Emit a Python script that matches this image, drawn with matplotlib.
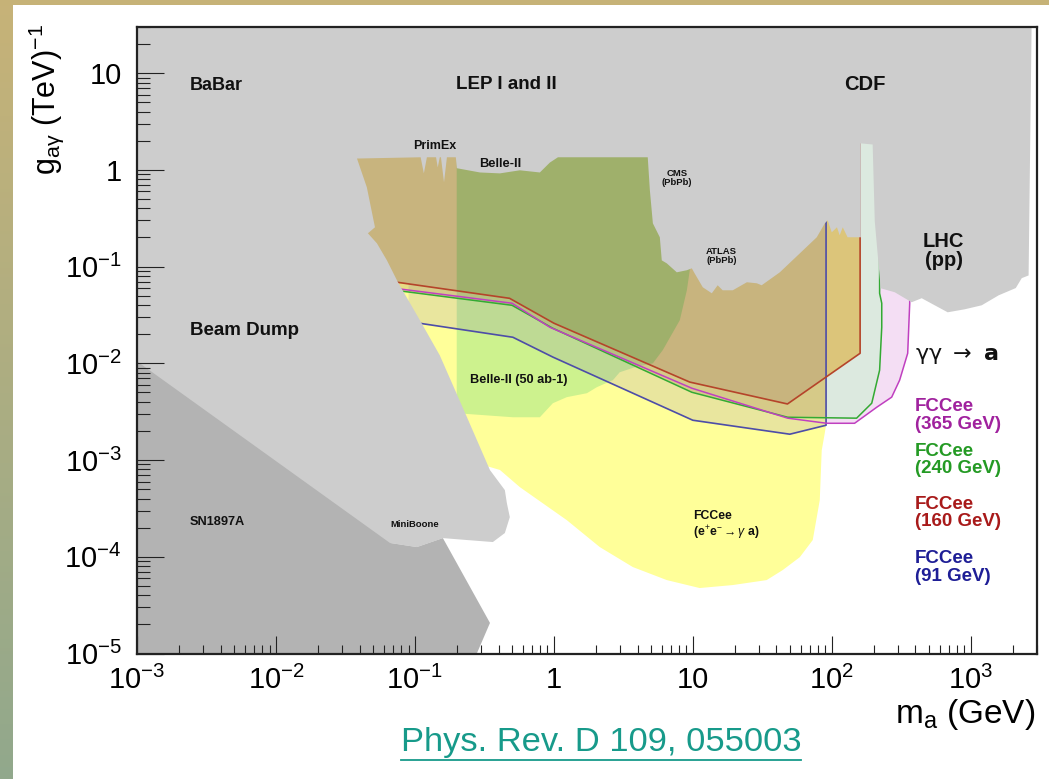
import numpy as np
import matplotlib
matplotlib.use("Agg")
import matplotlib.pyplot as plt
from matplotlib.patches import Polygon, Rectangle
from matplotlib.lines import Line2D
from matplotlib.ticker import FixedLocator, FixedFormatter, LogLocator, NullFormatter

plt.rcParams['font.family'] = ['Liberation Sans', 'DejaVu Sans']
plt.rcParams['mathtext.fontset'] = 'custom'
plt.rcParams['mathtext.rm'] = 'Liberation Sans'
plt.rcParams['mathtext.it'] = 'Liberation Sans:italic'
plt.rcParams['mathtext.bf'] = 'Liberation Sans:bold'
plt.rcParams['mathtext.sf'] = 'Liberation Sans'

# ---------------- data: m_a [GeV], g_ay [TeV^-1] ----------------
# existing limits (light grey): outline traced clockwise from top-left
excl_m = [5e-4, 2750, 2610, 2330, 2110, 1590, 1200, 906, 683, 551, 444, 376, 284, 225,
          204, 197, 162, 162, 130, 120, 114, 109, 100, 93.5, 89.1, 78, 58.9, 42.3, 31.3,
          28.9, 24.5, 19.4, 16.4, 15.1, 13.7, 11.8, 10.3, 9.84, 9.06, 7.67, 6.50, 5.98,
          5.79, 5.16, 4.91, 4.74, 1.07, 0.936, 0.793, 0.569, 0.409, 0.294, 0.2005, 0.197,
          0.170, 0.162, 0.154, 0.151, 0.146, 0.142, 0.122, 0.116, 0.110, 0.0383, 0.0451,
          0.0499, 0.0516, 0.0459, 0.0533, 0.0629, 0.0755, 0.1086, 0.151, 0.237, 0.347,
          0.444, 0.459, 0.482, 0.444, 0.364, 0.237, 0.159, 0.1033, 0.0661, 5e-4]
excl_g = [40, 40, 0.081, 0.076, 0.060, 0.0505, 0.0398, 0.0362, 0.0337, 0.0398, 0.0471,
          0.0428, 0.0543, 0.0597, 0.294, 1.83, 1.88, 0.201, 0.201, 0.255, 0.211, 0.255,
          0.226, 0.301, 0.280, 0.201, 0.137, 0.0873, 0.0641, 0.0672, 0.0689, 0.0569,
          0.0569, 0.0641, 0.053, 0.0611, 0.0853, 0.096, 0.0917, 0.0873, 0.108, 0.116,
          0.201, 0.280, 0.614, 1.35, 1.35, 1.19, 0.94, 0.99, 0.92, 0.94, 1.04, 1.35, 1.35,
          0.743, 1.35, 1.35, 1.06, 1.35, 1.35, 0.92, 1.35, 1.31, 0.66, 0.323, 0.255, 0.221,
          0.174, 0.116, 0.0689, 0.0279, 0.0121, 0.00277, 7.87e-4, 4.89e-4, 3.59e-4,
          2.57e-4, 1.76e-4, 1.42e-4, 1.49e-4, 1.56e-4, 1.26e-4, 1.39e-4, 9e-6]

# SN1987A (dark grey)
sn_m = [5e-4, 1e-3, 0.0661, 0.1033, 0.159, 0.347, 0.279, 0.27, 5e-4]
sn_g = [0.0105, 0.0105, 1.39e-4, 1.26e-4, 1.56e-4, 2.07e-5, 1e-5, 9e-6, 9e-6]

# FCCee e+e- -> gamma a reach (yellow), lower edge
ee_m = [5e-4, 0.30, 0.409, 0.569, 1.24, 2.14, 3.70, 6.50, 11.2, 19.4, 34.0, 44.4, 58.9,
        73.0, 82.0, 84.7, 89.1, 91, 91, 5e-4]
ee_g = [9e-4, 9e-4, 7.9e-4, 5.25e-4, 2.39e-4, 1.26e-4, 7.83e-5, 5.74e-5, 4.75e-5, 5.1e-5,
        5.74e-5, 7.29e-5, 9.9e-5, 1.49e-4, 3.85e-4, 1.26e-3, 1.9e-3, 2.3e-3, 3.0, 3.0]

# Belle-II (50 ab-1)
b2_m = [0.2, 0.2, 0.507, 0.793, 0.984, 1.24, 1.73, 2.04, 2.66, 2.98, 3.83, 5.16, 6.08,
        8.06, 9.06, 9.51, 9.84, 10.0]
b2_g = [3.0, 0.00305, 0.00277, 0.00277, 0.00387, 0.00447, 0.00491, 0.00567, 0.0067,
        0.00809, 0.00912, 0.0100, 0.0137, 0.0279, 0.0569, 0.0917, 0.111, 3.0]

# gamma gamma -> a reach at FCCee runs
red_m = [0.06, 0.48, 1.0, 9.5, 48, 160, 160]                 # 160 GeV
red_g = [0.072, 0.047, 0.026, 0.0064, 0.0038, 0.0127, 3.0]
green_m = [0.065, 0.50, 0.98, 9.84, 48.2, 151, 194, 221, 229, 229, 221, 221]   # 240 GeV
green_g = [0.058, 0.0398, 0.0231, 0.00502, 0.00277, 0.00271, 0.00387, 0.00849, 0.0236,
           0.0418, 0.053, 3.0]
mag_m = [0.065, 0.50, 0.936, 9.84, 48.2, 92, 146, 211, 270, 308, 352, 364, 364]  # 365 GeV
mag_g = [0.0607, 0.0418, 0.0236, 0.00553, 0.00271, 0.0024, 0.0024, 0.00352, 0.00447,
         0.0067, 0.0127, 0.0418, 3.0]
blue_m = [0.09, 0.507, 0.984, 10.0, 49.9, 91, 91]             # 91 GeV
blue_g = [0.027, 0.0186, 0.0116, 0.00258, 0.00185, 0.00229, 3.0]

x_ticks = [1e-3, 1e-2, 1e-1, 1, 10, 1e2, 1e3]
x_labels = ['$10^{-3}$', '$10^{-2}$', '$10^{-1}$', '1', '10', '$10^{2}$', '$10^{3}$']
y_ticks = [1e-5, 1e-4, 1e-3, 1e-2, 1e-1, 1, 10]
y_labels = ['$10^{-5}$', '$10^{-4}$', '$10^{-3}$', '$10^{-2}$', '$10^{-1}$', '1', '10']

TOP = 3.0
LEFT = 5e-4
M_Z = 91

# ---------------- colours ----------------
GREY = '#cdcdcd'
SNGREY = '#b3b3b3'
YELLOW = '#ffff99'
B2GREEN = '#cdf28e'
TAN = '#c8b47e'
GOLD = '#dcc57a'
OLIVE = '#9fb06b'
PINK = '#f4def4'
TEAL = '#dce9df'


def at(xs, ys, x0):
    return 10 ** np.interp(np.log10(x0), np.log10(xs), np.log10(ys))


def poly(ax, xs, ys, z, **kw):
    p = Polygon(np.column_stack([xs, ys]), closed=True, zorder=z, **kw)
    ax.add_patch(p)
    return p


fig = plt.figure(figsize=(10.49, 7.79), dpi=100)

# slide background
bg = fig.add_axes([0, 0, 1, 1], zorder=-10)
bg.axis('off')
t = np.linspace(0, 1, 256)[:, None, None]
ctop = np.array([0.78, 0.70, 0.47])
cbot = np.array([0.57, 0.66, 0.55])
bg.imshow(ctop + (cbot - ctop) * t, aspect='auto', extent=[0, 1, 0, 1], origin='upper')
bg.set_xlim(0, 1)
bg.set_ylim(0, 1)
bg.add_patch(Rectangle((13 / 1049, 0), 1, 1 - 5 / 779, color='white', lw=0))

ax = fig.add_axes([137 / 1049, 1 - 653.5 / 779, 900 / 1049, 626.5 / 779])
ax.set_xscale('log')
ax.set_yscale('log')
ax.set_xlim(1e-3, 3000)
ax.set_ylim(1e-5, 30)
ax.set_facecolor('white')

# ---- projected reaches ----
poly(ax, mag_m + [mag_m[0]], mag_g + [TOP], 1.00, color=PINK, lw=0)
poly(ax, green_m + [green_m[0]], green_g + [TOP], 1.05, color=TEAL, lw=0)
poly(ax, ee_m, ee_g, 1.10, color=YELLOW, lw=0)
poly(ax, b2_m, b2_g, 1.15, color=B2GREEN, lw=0)
poly(ax, blue_m + [blue_m[0]], blue_g + [TOP], 1.20, color='#5a40c0', alpha=0.13, lw=0)

gi = [i for i, m in enumerate(green_m[:7]) if m < M_Z]
g91 = at(green_m[:7], green_g[:7], M_Z)
poly(ax, [green_m[i] for i in gi] + [M_Z, M_Z, green_m[0]],
     [green_g[i] for i in gi] + [g91, TOP, TOP], 1.25, color='#a07848', alpha=0.25, lw=0)

poly(ax, [LEFT] + red_m + [LEFT], [red_g[0]] + red_g + [TOP], 1.30, color=GOLD, lw=0)
ri = [i for i, m in enumerate(red_m[:6]) if m < M_Z]
r91 = at(red_m[:6], red_g[:6], M_Z)
tan_patch = poly(ax, [LEFT] + [red_m[i] for i in ri] + [M_Z, M_Z, LEFT],
                 [red_g[0]] + [red_g[i] for i in ri] + [r91, TOP, TOP], 1.35, color=TAN, lw=0)
olive = poly(ax, b2_m, b2_g, 1.40, color=OLIVE, lw=0)
olive.set_clip_path(tan_patch)

ax.plot(blue_m, blue_g, color='#4d4da8', lw=1.2, zorder=2.0)
ax.plot(green_m, green_g, color='#33aa33', lw=1.1, zorder=2.05)
ax.plot(mag_m, mag_g, color='#c040c0', lw=1.1, zorder=2.1)
ax.plot(red_m, red_g, color='#b5442a', lw=1.2, zorder=2.15)

# ---- existing limits ----
poly(ax, excl_m, excl_g, 3.0, color=GREY, lw=0)
poly(ax, sn_m, sn_g, 3.1, color=SNGREY, lw=0)

# ---- labels ----
tk = dict(zorder=4, color='#111111')
ax.text(2.4e-3, 7.5, 'BaBar', fontsize=13, weight='bold', ha='left', va='center', **tk)
ax.text(0.459, 7.6, 'LEP I and II', fontsize=13.5, weight='bold', ha='center', va='center', **tk)
ax.text(173, 7.6, 'CDF', fontsize=14.5, weight='bold', ha='center', va='center', **tk)
ax.text(0.139, 1.78, 'PrimEx', fontsize=9, weight='bold', ha='center', va='center', **tk)
ax.text(0.41, 1.15, 'Belle-II', fontsize=9.3, weight='bold', ha='center', va='center', **tk)
ax.text(7.67, 0.83, 'CMS\n(PbPb)', fontsize=6.8, weight='bold', ha='center', va='center',
        linespacing=1.0, **tk)
ax.text(16.1, 0.128, 'ATLAS\n(PbPb)', fontsize=6.8, weight='bold', ha='center', va='center',
        linespacing=1.0, **tk)
ax.text(640, 0.144, 'LHC\n(pp)', fontsize=14.5, weight='bold', ha='center', va='center',
        linespacing=1.0, **tk)
ax.text(2.4e-3, 0.0216, 'Beam Dump', fontsize=13.5, weight='bold', ha='left', va='center', **tk)
ax.text(0.249, 0.0067, 'Belle-II (50 ab-1)', fontsize=9.2, weight='bold', ha='left',
        va='center', **tk)
ax.text(2.4e-3, 2.28e-4, 'SN1897A', fontsize=9.2, weight='bold', ha='left', va='center', **tk)
ax.text(0.1, 2.16e-4, 'MiniBoone', fontsize=6.8, weight='bold', ha='center', va='center', **tk)
ax.text(10.0, 2.08e-4, 'FCCee\n(e$^{+}$e$^{-}$$\\rightarrow\\gamma$ a)', fontsize=8.8,
        weight='bold', ha='left', va='center', linespacing=1.2, **tk)
ax.text(396, 0.0121, '$\\mathrm{\\gamma\\gamma}\\ \\rightarrow\\ \\mathbf{a}$', fontsize=16,
        ha='left', va='center', math_fontfamily='dejavusans', **tk)
for yv, txt, col in [(0.00291, 'FCCee\n(365 GeV)', '#a0229e'),
                     (1.0e-3, 'FCCee\n(240 GeV)', '#249a24'),
                     (2.83e-4, 'FCCee\n(160 GeV)', '#a81a1a'),
                     (7.8e-5, 'FCCee\n(91 GeV)', '#1e1e96')]:
    ax.text(396, yv, txt, fontsize=13.5, weight='bold', color=col, ha='left', va='center',
            linespacing=1.05, zorder=4)

# ---- axes styling (ROOT-like) ----
ax.xaxis.set_major_locator(FixedLocator(x_ticks))
ax.xaxis.set_major_formatter(FixedFormatter(x_labels))
ax.yaxis.set_major_locator(FixedLocator(y_ticks))
ax.yaxis.set_major_formatter(FixedFormatter(y_labels))
ax.xaxis.set_minor_locator(LogLocator(base=10, subs=np.arange(2, 10), numticks=50))
ax.yaxis.set_minor_locator(LogLocator(base=10, subs=np.arange(2, 10), numticks=50))
ax.xaxis.set_minor_formatter(NullFormatter())
ax.yaxis.set_minor_formatter(NullFormatter())
ax.tick_params(axis='x', which='major', direction='in', length=13, width=0.8,
               labelsize=21, pad=9, top=False, color='#222222')
ax.tick_params(axis='x', which='minor', direction='in', length=6.5, width=0.8, top=False,
               color='#222222')
ax.tick_params(axis='y', which='major', direction='in', length=19.5, width=0.8,
               labelsize=21, pad=11, right=False, color='#222222')
ax.tick_params(axis='y', which='minor', direction='in', length=9.5, width=0.8, right=False,
               color='#222222')
ax.xaxis.set_zorder(5)
ax.yaxis.set_zorder(5)
for s in ax.spines.values():
    s.set_linewidth(1.6)
    s.set_color('#222222')
    s.set_zorder(6)

fig.text(46 / 1049, 1 - 24 / 779, 'g$_{\\mathrm{a\\gamma}}$ (TeV)$^{-1}$', rotation=90,
         ha='center', va='top', fontsize=22)
fig.text(1035 / 1049, 1 - 715 / 779, 'm$_{\\mathrm{a}}$ (GeV)', ha='right', va='center',
         fontsize=24)

link = fig.text(601 / 1049, 1 - 742 / 779, 'Phys. Rev. D 109, 055003', ha='center',
                va='center', fontsize=24.8, color='#179a8a',
                family=['Liberation Sans Narrow', 'Liberation Sans'])
fig.canvas.draw()
bb = link.get_window_extent(fig.canvas.get_renderer())
W, H = fig.bbox.width, fig.bbox.height
fig.add_artist(Line2D([bb.x0 / W, bb.x1 / W], [(bb.y0 - 2) / H] * 2, color='#179a8a',
                      lw=1.3))

fig.savefig('out.png', dpi=100)
